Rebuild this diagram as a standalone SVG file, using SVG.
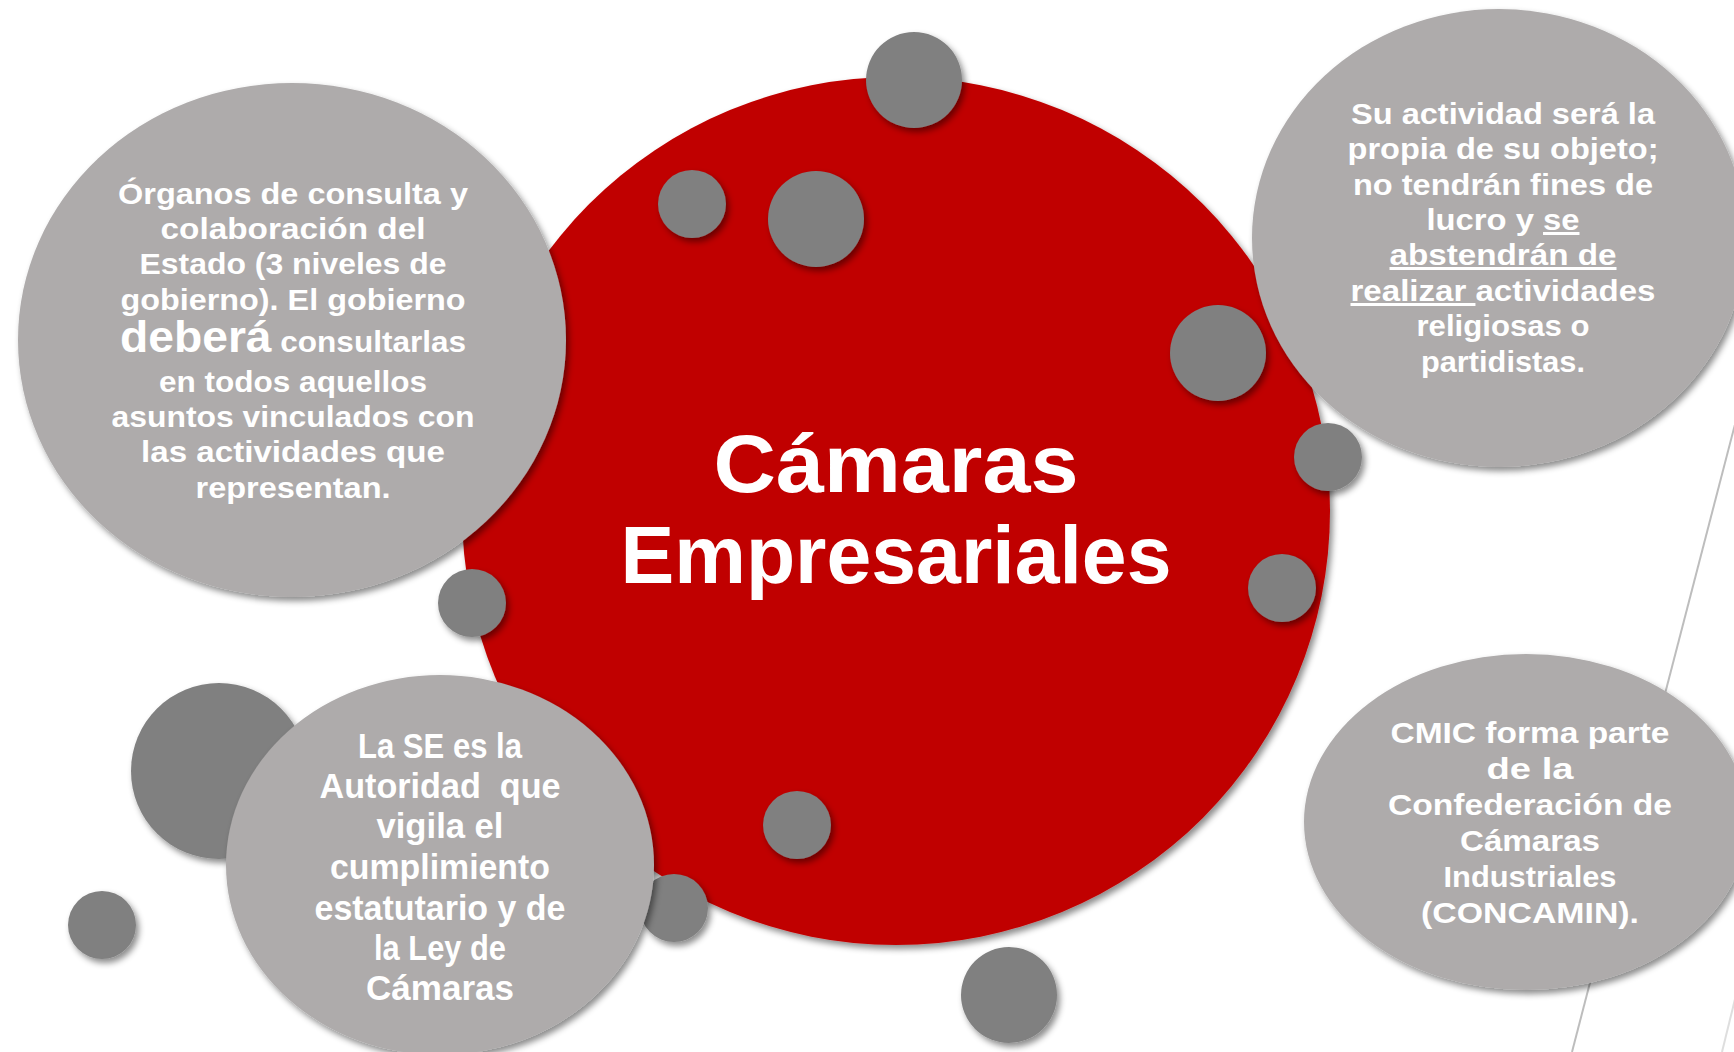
<svg xmlns="http://www.w3.org/2000/svg" width="1734" height="1052" viewBox="0 0 1734 1052">
<defs>
<filter id="sh" x="-20%" y="-20%" width="140%" height="140%">
<feDropShadow dx="3" dy="4" stdDeviation="3" flood-color="#000" flood-opacity="0.45"/>
</filter>
<style>
.red{fill:#C00000}
.big{fill:#AEABAB}
.dot{fill:#808080}
.t{font-family:"Liberation Sans",Arial,sans-serif;font-weight:bold;fill:#FFFFFF;text-anchor:middle}
.s{font-size:30px}
.c{font-size:35px}
.title{font-size:81px}
.u{text-decoration:underline}
.ln{stroke:#BDBDBD;stroke-width:2;fill:none}
</style>
</defs>
<rect width="1734" height="1052" fill="#FFFFFF"/>
<g id="connectors">
<line class="ln" x1="1740" y1="405" x2="1572" y2="1052"/>
<line class="ln" x1="1752" y1="930" x2="1722" y2="1052" opacity="0.5"/>
</g>
<g id="center">
<circle class="red" cx="896" cy="511" r="434" filter="url(#sh)"/>
</g>
<g id="node-organos">
<ellipse class="big" cx="292" cy="340" rx="274" ry="257" filter="url(#sh)"/>
</g>
<g id="node-actividad">
<ellipse class="big" cx="1499" cy="238" rx="247" ry="229" filter="url(#sh)"/>
</g>
<g id="node-cmic">
<ellipse class="big" cx="1526" cy="822" rx="222" ry="168" filter="url(#sh)"/>
</g>
<g id="dots">
<circle class="dot" cx="219" cy="771" r="88" filter="url(#sh)"/>
<circle class="dot" cx="914" cy="80" r="48" filter="url(#sh)"/>
<circle class="dot" cx="692" cy="204" r="34" filter="url(#sh)"/>
<circle class="dot" cx="816" cy="219" r="48" filter="url(#sh)"/>
<circle class="dot" cx="1218" cy="353" r="48" filter="url(#sh)"/>
<circle class="dot" cx="1328" cy="457" r="34" filter="url(#sh)"/>
<circle class="dot" cx="1282" cy="588" r="34" filter="url(#sh)"/>
<circle class="dot" cx="472" cy="603" r="34" filter="url(#sh)"/>
<circle class="dot" cx="797" cy="825" r="34" filter="url(#sh)"/>
<circle class="dot" cx="674" cy="908" r="34" filter="url(#sh)"/>
<circle class="dot" cx="1009" cy="995" r="48" filter="url(#sh)"/>
<circle class="dot" cx="102" cy="925" r="34" filter="url(#sh)"/>
</g>
<g id="node-se">
<ellipse class="big" cx="440" cy="865" rx="214" ry="190" filter="url(#sh)"/>
</g>
<g id="center-text">
<text class="t title" x="896" y="492" textLength="365" lengthAdjust="spacingAndGlyphs">Cámaras</text>
<text class="t title" x="896" y="583" textLength="551" lengthAdjust="spacingAndGlyphs">Empresariales</text>
</g>
<g id="organos-text" class="t s">
<text x="293" y="204" textLength="350" lengthAdjust="spacingAndGlyphs">Órganos de consulta y</text>
<text x="293" y="239" textLength="265" lengthAdjust="spacingAndGlyphs">colaboración del</text>
<text x="293" y="274" textLength="307" lengthAdjust="spacingAndGlyphs">Estado (3 niveles de</text>
<text x="293" y="310" textLength="345" lengthAdjust="spacingAndGlyphs">gobierno). El gobierno</text>
<text x="293" y="352" textLength="346" lengthAdjust="spacingAndGlyphs"><tspan font-size="44">deberá</tspan> consultarlas</text>
<text x="293" y="392" textLength="268" lengthAdjust="spacingAndGlyphs">en todos aquellos</text>
<text x="293" y="427" textLength="363" lengthAdjust="spacingAndGlyphs">asuntos vinculados con</text>
<text x="293" y="462" textLength="304" lengthAdjust="spacingAndGlyphs">las actividades que</text>
<text x="293" y="498" textLength="195" lengthAdjust="spacingAndGlyphs">representan.</text>
</g>
<g id="actividad-text" class="t s">
<text x="1503" y="124" textLength="304" lengthAdjust="spacingAndGlyphs">Su actividad será la</text>
<text x="1503" y="159" textLength="311" lengthAdjust="spacingAndGlyphs">propia de su objeto;</text>
<text x="1503" y="195" textLength="300" lengthAdjust="spacingAndGlyphs">no tendrán fines de</text>
<text x="1503" y="230" textLength="153" lengthAdjust="spacingAndGlyphs">lucro y <tspan class="u">se</tspan></text>
<text x="1503" y="265" textLength="227" lengthAdjust="spacingAndGlyphs"><tspan class="u">abstendrán de</tspan></text>
<text x="1503" y="301" textLength="305" lengthAdjust="spacingAndGlyphs"><tspan class="u">realizar </tspan>actividades</text>
<text x="1503" y="336" textLength="173" lengthAdjust="spacingAndGlyphs">religiosas o</text>
<text x="1503" y="372" textLength="164" lengthAdjust="spacingAndGlyphs">partidistas.</text>
</g>
<g id="se-text" class="t c">
<text x="440" y="758" textLength="164" lengthAdjust="spacingAndGlyphs">La SE es la</text>
<text x="440" y="798" textLength="241" lengthAdjust="spacingAndGlyphs" xml:space="preserve">Autoridad  que</text>
<text x="440" y="838" textLength="127" lengthAdjust="spacingAndGlyphs">vigila el</text>
<text x="440" y="879" textLength="220" lengthAdjust="spacingAndGlyphs">cumplimiento</text>
<text x="440" y="920" textLength="251" lengthAdjust="spacingAndGlyphs">estatutario y de</text>
<text x="440" y="960" textLength="132" lengthAdjust="spacingAndGlyphs">la Ley de</text>
<text x="440" y="1000" textLength="148" lengthAdjust="spacingAndGlyphs">Cámaras</text>
</g>
<g id="cmic-text" class="t s">
<text x="1530" y="743" textLength="279" lengthAdjust="spacingAndGlyphs">CMIC forma parte</text>
<text x="1530" y="779" textLength="87" lengthAdjust="spacingAndGlyphs">de la</text>
<text x="1530" y="815" textLength="284" lengthAdjust="spacingAndGlyphs">Confederación de</text>
<text x="1530" y="851" textLength="140" lengthAdjust="spacingAndGlyphs">Cámaras</text>
<text x="1530" y="887" textLength="173" lengthAdjust="spacingAndGlyphs">Industriales</text>
<text x="1530" y="923" textLength="218" lengthAdjust="spacingAndGlyphs">(CONCAMIN).</text>
</g>
</svg>
